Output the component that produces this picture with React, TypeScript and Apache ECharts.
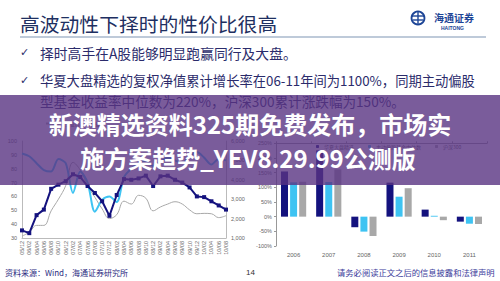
import React, { useEffect, useRef } from "react";
import * as echarts from "echarts";

// ---- Left chart data ----
const lineDates = [
  "05/12", "06/02", "06/04", "06/06", "06/08", "06/10", "06/12", "07/02", "07/04", "07/06",
  "07/08", "07/10", "07/12", "08/02", "08/04", "08/06", "08/08", "08/10", "08/12", "09/02",
  "09/04", "09/06", "09/08", "09/10", "09/12", "10/02", "10/04", "10/06", "10/08",
];
const huaxiaPosition = [
  35.5, 33.5, 46.5, 50.5, 65.5, 68.5, 71, 76, 74, 67.5,
  62.5, 56.5, 46, 61, 72.5, 72, 73, 75, 67.5, 74.5,
  75, 72, 70, 66.5, 60, 59.5, 56.5, 53.5, 50.5,
];
const fundPosition = [
  91, 89, 84, 79, 78, 87, 84, 62.5, 78, 70,
  49, 57.5, 60, 56, 74, 80, 84, 86, 82, 85,
  88, 86, 84, 89, 92, 88, 83, 87, 86,
];
const indexLevel = [
  1100, 1300, 1650, 1650, 2400, 3000, 3700, 4900, 4500, 3700,
  3100, 2500, 2000, 2200, 2900, 2750, 3200, 3050, 2400, 2600,
  2750, 2870, 2750, 2450, 2250, 2270, 2250, 2050, 2150,
];
const lineNames = ["华夏大盘精选仓位", "股票型基金平均仓位", "上证综指（右轴）"];

// ---- Right chart data ----
const barYears = ["2006", "2007", "2008", "2009", "2010", "2011"];
const huaxiaReturn = [154, 226, -36, 116, 24, -17];
const fundMedianReturn = [117, 118, -51, 68, 3, -24];
const hs300Return = [119, 161, -66, 97, -12, -25];
const barNames = ["华夏大盘精选", "主动偏股基金中位数", "沪深300"];

// ---- Texts ----
const headerTitle = "高波动性下择时的性价比很高";
const bullet1 = "择时高手在A股能够明显跑赢同行及大盘。";
const bullet2 = "华夏大盘精选的复权净值累计增长率在06-11年间为1100%，同期主动偏股";
const bullet3 = "型基金收益率中位数为220%，沪深300累计涨跌幅为150%。";
const overlayLine1 = "新澳精选资料325期免费发布，市场实";
const overlayLine2 = "施方案趋势_YEV8.29.99公测版";
const sourceText = "资料来源：Wind，海通证券研究所";
const pageNo = "14";
const disclaimer = "请务必阅读正文之后的信息披露和法律声明";

const CJK = '"Noto Sans CJK SC", "Noto Sans", sans-serif';
const NAVY = "#14127e";
const CYAN = "#3ec3f2";
const GREY = "#a8a8a8";

export default function App() {
  const ref = useRef<HTMLDivElement>(null);
  useEffect(() => {
    if (!ref.current) return;
    const chart = echarts.init(ref.current, undefined, { renderer: "svg" });
    const axisText = { fontSize: 5.5, color: "#666", fontFamily: "Arial, sans-serif" };
    chart.setOption({
      animation: false,
      backgroundColor: "#ffffff",
      textStyle: { fontFamily: CJK },
      legend: [
        {
          data: [lineNames[2]],
          left: 40,
          top: 116,
          itemWidth: 14,
          itemHeight: 3,
          textStyle: { fontSize: 5, color: "#555" },
        },
        {
          data: barNames,
          left: 311,
          top: 139,
          itemWidth: 3,
          itemHeight: 3,
          itemGap: 14,
          textStyle: { fontSize: 5, color: "#555" },
        },
      ],
      grid: [
        { left: 22, right: 274, top: 141, bottom: 43 },
        { left: 276, right: 13, top: 143.3, bottom: 35 },
      ],
      xAxis: [
        {
          gridIndex: 0,
          type: "category",
          data: lineDates,
          boundaryGap: false,
          axisLine: { lineStyle: { color: "#bbb" } },
          axisTick: { show: false },
          axisLabel: { ...axisText, rotate: 90, interval: 0, margin: 3 },
        },
        {
          gridIndex: 1,
          type: "category",
          data: barYears,
          position: "bottom",
          axisLine: { show: false },
          axisTick: { show: false },
          axisLabel: { ...axisText, fontSize: 6, margin: 6 },
        },
        {
          gridIndex: 1,
          type: "category",
          data: barYears,
          axisLine: { onZero: true, lineStyle: { color: "#999" } },
          axisTick: { show: true, length: 2, lineStyle: { color: "#999" } },
          axisLabel: { show: false },
        },
      ],
      yAxis: [
        {
          gridIndex: 0,
          type: "value",
          min: 30,
          max: 100,
          interval: 10,
          splitLine: { show: false },
          axisLine: { show: true, lineStyle: { color: "#bbb" } },
          axisTick: { show: false },
          axisLabel: { ...axisText, margin: 5 },
        },
        {
          gridIndex: 0,
          type: "value",
          position: "right",
          min: 1000,
          max: 6000,
          interval: 1000,
          splitLine: { show: false },
          axisLine: { show: true, lineStyle: { color: "#bbb" } },
          axisTick: { show: false },
          axisLabel: { ...axisText, margin: 5 },
        },
        {
          gridIndex: 1,
          type: "value",
          min: -100,
          max: 250,
          interval: 50,
          splitLine: { show: false },
          axisLine: { show: true, lineStyle: { color: "#999" } },
          axisTick: { show: true, length: 2, lineStyle: { color: "#999" } },
          axisLabel: { ...axisText, fontSize: 5.5, margin: 4, formatter: "{value}%" },
        },
      ],
      series: [
        {
          name: lineNames[2],
          type: "line",
          xAxisIndex: 0,
          yAxisIndex: 1,
          data: indexLevel,
          smooth: 0.4,
          symbol: "none",
          lineStyle: { color: GREY, width: 1 },
          itemStyle: { color: GREY },
          z: 1,
        },
        {
          name: lineNames[1],
          type: "line",
          xAxisIndex: 0,
          yAxisIndex: 0,
          data: fundPosition,
          smooth: 0.3,
          symbol: "none",
          lineStyle: { color: CYAN, width: 2 },
          itemStyle: { color: CYAN },
          z: 2,
        },
        {
          name: lineNames[0],
          type: "line",
          xAxisIndex: 0,
          yAxisIndex: 0,
          data: huaxiaPosition,
          symbol: "rect",
          symbolSize: 4,
          lineStyle: { color: NAVY, width: 2 },
          itemStyle: { color: NAVY },
          z: 3,
        },
        {
          name: barNames[0],
          type: "bar",
          xAxisIndex: 1,
          yAxisIndex: 2,
          data: huaxiaReturn,
          barWidth: 7,
          barGap: "30%",
          itemStyle: { color: NAVY },
        },
        {
          name: barNames[1],
          type: "bar",
          xAxisIndex: 1,
          yAxisIndex: 2,
          data: fundMedianReturn,
          barWidth: 7,
          barGap: "30%",
          itemStyle: { color: CYAN },
        },
        {
          name: barNames[2],
          type: "bar",
          xAxisIndex: 1,
          yAxisIndex: 2,
          data: hs300Return,
          barWidth: 7,
          barGap: "30%",
          itemStyle: { color: GREY },
        },
      ],
      graphic: [
        {
          type: "text",
          left: 20,
          top: 14,
          style: { text: headerTitle, fontSize: 19.8, fill: "#1e2f61", fontFamily: CJK },
        },
        {
          type: "line",
          shape: { x1: 20, y1: 37, x2: 486, y2: 37 },
          style: { stroke: "#a9b8cc", lineWidth: 1.6 },
        },
        // logo
        {
          type: "circle",
          shape: { cx: 418, cy: 18, r: 6.5 },
          style: { fill: "none", stroke: "#1d4596", lineWidth: 1.8 },
        },
        {
          type: "line",
          shape: { x1: 412, y1: 16, x2: 424, y2: 16 },
          style: { stroke: "#1d4596", lineWidth: 1.4 },
        },
        {
          type: "line",
          shape: { x1: 413, y1: 20, x2: 423, y2: 20 },
          style: { stroke: "#1d4596", lineWidth: 1.4 },
        },
        {
          type: "line",
          shape: { x1: 418, y1: 12, x2: 418, y2: 24 },
          style: { stroke: "#1d4596", lineWidth: 1.4 },
        },
        {
          type: "text",
          left: 434,
          top: 12,
          style: { text: "海通证券", fontSize: 10, fontWeight: "bold", fill: "#1d4596", fontFamily: CJK },
        },
        {
          type: "text",
          left: 441,
          top: 25,
          style: { text: "HAITONG", fontSize: 5, fontWeight: "bold", fill: "#1d4596", fontFamily: "Arial, sans-serif" },
        },
        // bullets
        {
          type: "text",
          left: 20,
          top: 47,
          style: { text: "✓", fontSize: 11, fill: "#2b2b6b", fontFamily: '"DejaVu Sans", sans-serif' },
        },
        {
          type: "text",
          left: 40,
          top: 46,
          style: { text: bullet1, fontSize: 13.8, fill: "#2b2b6b", fontFamily: CJK },
        },
        {
          type: "text",
          left: 20,
          top: 75,
          style: { text: "✓", fontSize: 11, fill: "#2b2b6b", fontFamily: '"DejaVu Sans", sans-serif' },
        },
        {
          type: "text",
          left: 40,
          top: 74,
          style: { text: bullet2, fontSize: 13.3, fill: "#2b2b6b", fontFamily: CJK },
        },
        {
          type: "text",
          left: 40,
          top: 94,
          style: { text: bullet3, fontSize: 13.6, fill: "#2b2b6b", fontFamily: CJK },
        },
        // footer
        {
          type: "text",
          left: 5,
          top: 268,
          style: { text: sourceText, fontSize: 8, fill: "#2a2a80", fontFamily: CJK },
        },
        {
          type: "text",
          left: 246,
          top: 268,
          style: { text: pageNo, fontSize: 8, fill: "#333", fontFamily: "Arial, sans-serif" },
        },
        {
          type: "text",
          left: 337,
          top: 268,
          style: { text: disclaimer, fontSize: 8.3, fill: "#3b3b9b", fontFamily: CJK },
        },
        // overlay band
        {
          type: "rect",
          z: 100,
          shape: { x: 0, y: 95, width: 500, height: 90 },
          style: { fill: "rgba(89, 51, 130, 0.8)" },
        },
        {
          type: "text",
          z: 101,
          x: 250,
          y: 123,
          style: {
            text: overlayLine1,
            fontSize: 24,
            fontWeight: "bold",
            fill: "#ffffff",
            align: "center",
            verticalAlign: "middle",
            fontFamily: CJK,
          },
        },
        {
          type: "text",
          z: 101,
          x: 248,
          y: 157,
          style: {
            text: overlayLine2,
            fontSize: 24,
            fontWeight: "bold",
            fill: "#ffffff",
            align: "center",
            verticalAlign: "middle",
            fontFamily: CJK,
          },
        },
      ],
    });
    return () => chart.dispose();
  }, []);
  return (
    <div
      ref={ref}
      style={{ position: "fixed", left: 0, top: 0, width: 500, height: 281, background: "#fff" }}
    />
  );
}
